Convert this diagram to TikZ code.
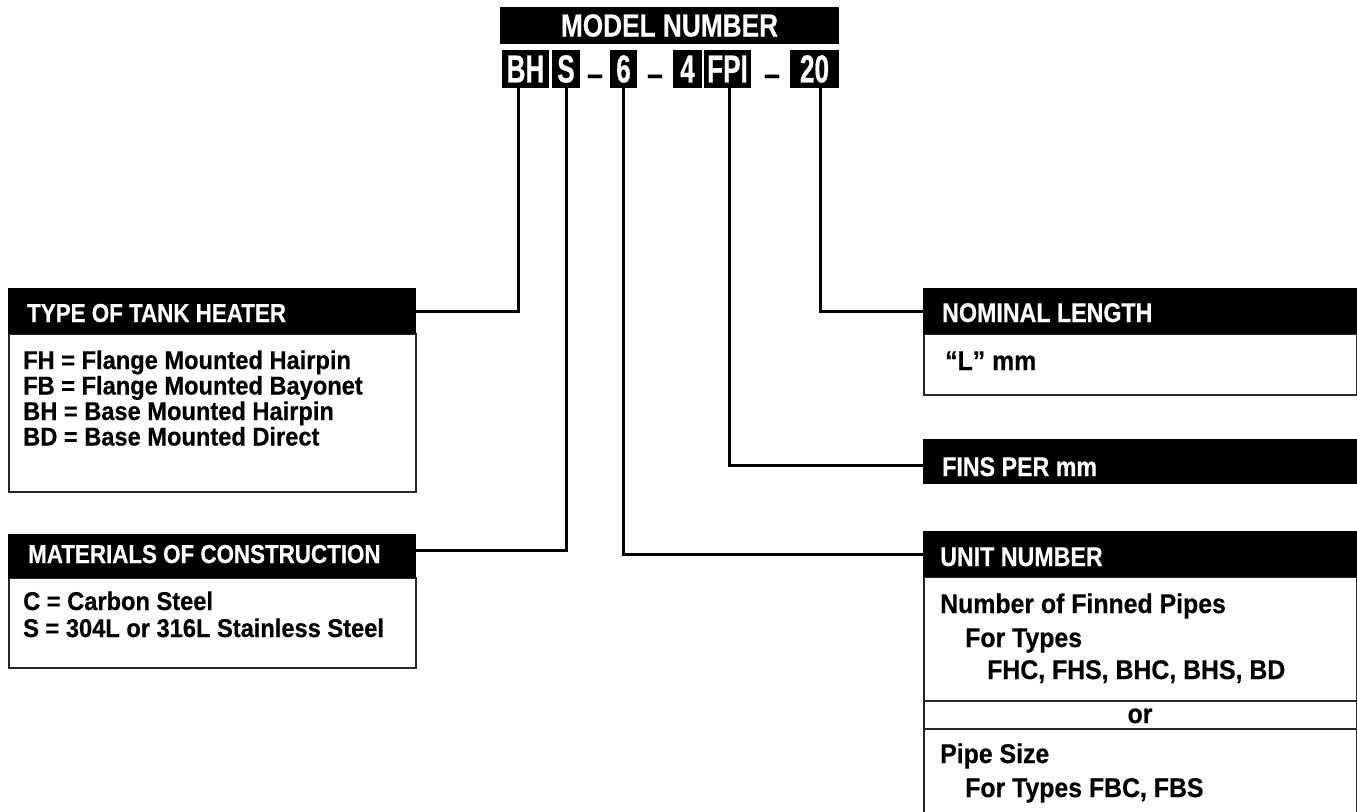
\documentclass[tikz,border=0pt]{standalone}
\usepackage{fontspec}
\setmainfont{Liberation Sans}
\newfontfamily\hdrfont{Liberation Sans}[FakeStretch=0.86,FakeBold=0.5]
\newfontfamily\bodyfont{Liberation Sans}[FakeStretch=0.92,FakeBold=0.5]
\newfontfamily\modelfont{Liberation Sans}[FakeStretch=0.82,FakeBold=0.5]
\newfontfamily\codefont{Liberation Sans}[FakeStretch=0.67,FakeBold=0.5]
\tikzset{
  blackbox/.style={fill=black, draw=black, line width=1pt, inner sep=0pt, anchor=north west},
  whitebox/.style={fill=white, draw=black!85, line width=1.5pt, inner sep=0pt, anchor=north west},
  conn/.style={line width=3pt, draw=black},
  hdrL/.style={font=\hdrfont\bfseries\fontsize{26}{26}\selectfont, text=white, inner sep=0pt, anchor=base west},
  hdrR/.style={font=\hdrfont\bfseries\fontsize{27}{27}\selectfont, text=white, inner sep=0pt, anchor=base west},
  bodyL/.style={font=\bodyfont\bfseries\fontsize{25.7}{25.7}\selectfont, text=black, inner sep=0pt, anchor=base west},
  bodyR/.style={font=\bodyfont\bfseries\fontsize{27}{27}\selectfont, text=black, inner sep=0pt, anchor=base west},
  codebox/.style={blackbox, font=\codefont\bfseries\fontsize{39}{39}\selectfont, text=white},
  dashtxt/.style={font=\hdrfont\bfseries\fontsize{33}{33}\selectfont, text=black, inner sep=0pt, anchor=center},
}
\begin{document}
\begin{tikzpicture}[x=1pt,y=-1pt]
\useasboundingbox (0,0) rectangle (1357,811);
\clip (0,0) rectangle (1357,811);

% model number
\node[blackbox, minimum width=338pt, minimum height=36pt, font=\modelfont\bfseries\fontsize{32}{32}\selectfont, text=white] (model) at (500,7) {MODEL NUMBER};

\node[codebox, minimum width=46pt, minimum height=37pt] (bh) at (502,50) {BH};
\node[codebox, minimum width=27pt, minimum height=37pt] (s) at (552,50) {S};
\node[dashtxt] (d1) at (595,80) {–};
\node[codebox, minimum width=26pt, minimum height=37pt] (six) at (610,50) {6};
\node[dashtxt] (d2) at (655,80) {–};
\node[codebox, minimum width=28pt, minimum height=37pt] (four) at (673,50) {4};
\node[codebox, minimum width=46pt, minimum height=37pt] (fpi) at (704,50) {FPI};
\node[dashtxt] (d3) at (772,80) {–};
\node[codebox, minimum width=48pt, minimum height=37pt] (twenty) at (790,50) {20};

% left: type of tank heater
\node[whitebox, minimum width=407pt, minimum height=158pt] (typebody) at (8,333) {};
\node[blackbox, minimum width=407pt, minimum height=45pt] (typehdr) at (8,288) {};
\node[hdrL] (typet) at (27,322) {TYPE OF TANK HEATER};
\node[bodyL] (t1) at (23,369) {FH = Flange Mounted Hairpin};
\node[bodyL] (t2) at (23,394.5) {FB = Flange Mounted Bayonet};
\node[bodyL] (t3) at (23,420) {BH = Base Mounted Hairpin};
\node[bodyL] (t4) at (23,445.5) {BD = Base Mounted Direct};

% left: materials
\node[whitebox, minimum width=407pt, minimum height=90pt] (matbody) at (8,577) {};
\node[blackbox, minimum width=407pt, minimum height=43pt] (mathdr) at (8,534) {};
\node[hdrL] (matt) at (28,563) {MATERIALS OF CONSTRUCTION};
\node[bodyL] (m1) at (23,610) {C = Carbon Steel};
\node[bodyL] (m2) at (23,637) {S = 304L or 316L Stainless Steel};

% right: nominal length
\node[whitebox, minimum width=433pt, minimum height=61pt] (nombody) at (923,333) {};
\node[blackbox, minimum width=436pt, minimum height=45pt] (nomhdr) at (923,288) {};
\node[hdrR] (nomt) at (942,322) {NOMINAL LENGTH};
\node[bodyR] (n1) at (945,370) {“L” mm};

% right: fins per mm
\node[blackbox, minimum width=436pt, minimum height=44pt] (finshdr) at (923,439) {};
\node[hdrR] (finst) at (942,476) {FINS PER mm};

% right: unit number
\node[whitebox, minimum width=433pt, minimum height=124pt] (unitbody) at (923,576) {};
\node[whitebox, minimum width=433pt, minimum height=28pt] (orbody) at (923,700) {};
\node[whitebox, minimum width=433pt, minimum height=90pt] (pipebody) at (923,728) {};
\node[blackbox, minimum width=436pt, minimum height=45pt] (unithdr) at (923,531) {};
\node[hdrR] (unitt) at (940,566) {UNIT NUMBER};
\node[bodyR] (u1) at (940,613) {Number of Finned Pipes};
\node[bodyR] (u2) at (965,647) {For Types};
\node[bodyR] (u3) at (987,679) {FHC, FHS, BHC, BHS, BD};
\node[bodyR, anchor=base] (ort) at (1140,723) {or};
\node[bodyR] (p1) at (940,763) {Pipe Size};
\node[bodyR] (p2) at (965,797) {For Types FBC, FBS};

% connectors
\draw[conn] ([xshift=-7pt]bh.south) |- (typehdr.east);
\draw[conn] (s.south) |- ([yshift=5.5pt]mathdr.east);
\draw[conn] (six.south) |- (unithdr.west);
\draw[conn] ([xshift=2pt]fpi.south) |- ([yshift=-4pt]finshdr.west);
\draw[conn] ([xshift=6pt]twenty.south) |- (nomhdr.west);
\end{tikzpicture}
\end{document}
